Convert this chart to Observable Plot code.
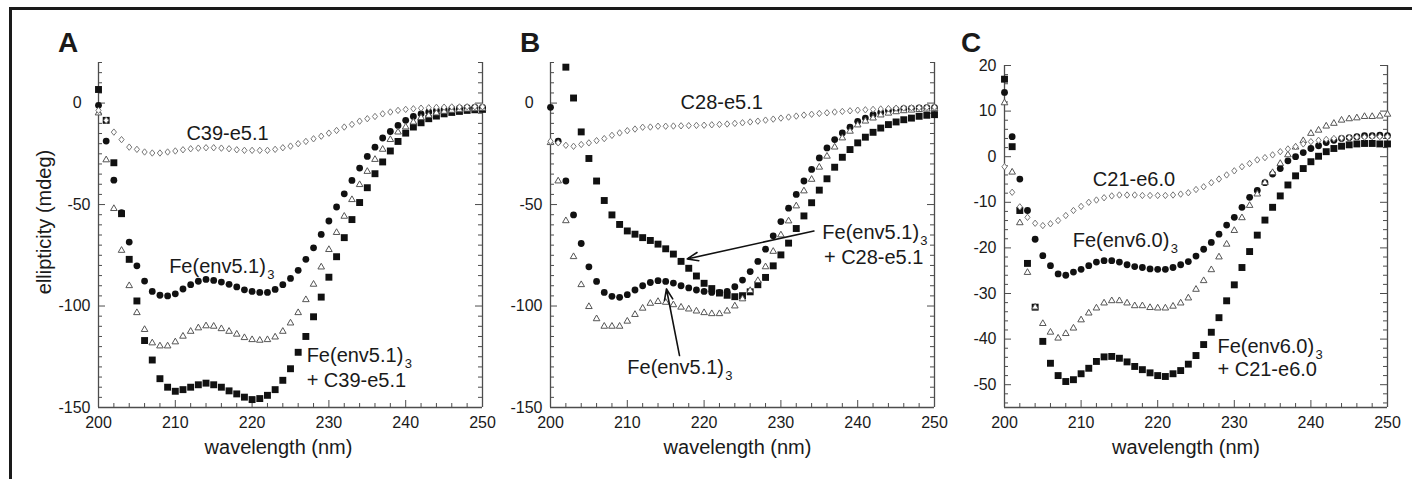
<!DOCTYPE html>
<html><head><meta charset="utf-8">
<script src="https://cdn.jsdelivr.net/npm/d3@7"></script>
<script src="https://cdn.jsdelivr.net/npm/@observablehq/plot@0.6"></script>
<style>
body{margin:0;background:#fff;}
#fig{position:relative;width:1412px;height:479px;background:#fff;overflow:hidden;font-family:"Liberation Sans",Arial,Helvetica,sans-serif;color:#1a1a1a;}
.panel{position:absolute;height:460px;}
.panel svg{overflow:visible;display:block;}
.letter{position:absolute;font-weight:bold;font-size:28px;line-height:28px;}
.bar{position:absolute;background:#1a1a1a;}
</style></head><body>
<div id="fig">
  <div class="bar" style="left:9px;top:7px;width:1403px;height:3px"></div>
  <div class="bar" style="left:9px;top:7px;width:3px;height:472px"></div>
  <div class="letter" style="left:58px;top:29px">A</div>
  <div class="letter" style="left:520px;top:29px">B</div>
  <div class="letter" style="left:961px;top:29px">C</div>
  <div class="panel" id="pA" style="left:12px;top:12px;width:478px"></div>
  <div class="panel" id="pB" style="left:490px;top:12px;width:452px"></div>
  <div class="panel" id="pC" style="left:942px;top:12px;width:462px"></div>
</div>
<script>
// ---------- data ----------
const wavelength = [200,201,202,203,204,205,206,207,208,209,210,211,212,213,214,215,216,217,218,219,220,221,222,223,224,225,226,227,228,229,230,231,232,233,234,235,236,237,238,239,240,241,242,243,244,245,246,247,248,249,250];
const xTickLabels = [200, 210, 220, 230, 240, 250];
const abYTickLabels = [-150, -100, -50, 0];
const cYTickLabels = [-50, -40, -30, -20, -10, 0, 10, 20];

// Panel A
const aSquare = [6.7,-8.5,-29.4,-54.5,-77,-97.5,-117,-126.6,-135.8,-140,-142,-141.2,-140,-138.8,-138,-138.8,-140,-141.8,-143.3,-144.9,-146.1,-145.6,-144,-141.2,-136.6,-130.9,-122.8,-115,-105.3,-95.6,-85.8,-75.7,-66.3,-57.4,-49,-41.7,-34.8,-29,-23.6,-18.9,-14.8,-11.8,-9.7,-7.7,-6.4,-5.3,-4.6,-4.1,-3.6,-3.3,-3.1];
const aCircle = [-1.1,-18.7,-38,-54,-68.5,-80.2,-87.7,-92.8,-94.7,-95,-94,-91.6,-89.5,-87.8,-86.9,-87.4,-88.2,-89.3,-90.6,-92,-92.8,-93.3,-93.3,-91.8,-89.5,-86.4,-82.4,-77,-71.3,-64.7,-58.1,-51.2,-44.7,-38.1,-32,-26.3,-21.7,-17.2,-14,-11,-8.5,-6.6,-5.3,-4.4,-3.6,-3.1,-2.8,-2.5,-2.3,-2.1,-2.1];
const aTriangle = [-4.9,-28,-52,-72.6,-90,-103.3,-111.6,-118.2,-119.7,-119.7,-117.7,-114.9,-112.5,-110.8,-109.8,-110,-111.2,-112.5,-113.9,-115.6,-116.6,-116.9,-116.6,-115.3,-112.5,-108.4,-103.3,-96.9,-89.3,-80.8,-72.2,-63.8,-55.8,-47.6,-40.2,-33.7,-27.8,-22.8,-18,-14.3,-11.8,-9.4,-7.2,-6.1,-4.9,-4.1,-3.6,-3.3,-3,-2.8,-2.6];
const aDiamond = [-3.6,-8.5,-14.3,-18,-21.7,-22.8,-24.1,-24.6,-24.6,-24.1,-23.6,-23,-22.5,-22.2,-22,-22,-22.2,-22.5,-23,-23.3,-23.3,-23.3,-23.3,-22.8,-22,-21.2,-20,-18.9,-17.6,-16.3,-14.8,-13.5,-11.8,-10.5,-8.9,-7.7,-6.6,-5.3,-4.4,-3.6,-3.1,-2.8,-2.5,-2.3,-2.1,-2,-1.9,-1.9,-1.8,-1.8,-1.8];
const aNoteText = ["C39-e5.1", "Fe(env5.1)", "Fe(env5.1)", "+ C39-e5.1"];
const aNoteX = [216.8, 209.2, 227.1, 227.1];
const aNoteY = [-18.4, -83.9, -127.7, -140];
const aNoteAlign = ["middle", "start", "start", "start"];
const aNoteSub = ["", "3", "3", ""];

// Panel B
const bSquare = [null,null,17.7,2.5,-14.2,-27.3,-38.4,-48,-55.1,-59.8,-63,-64.6,-66.3,-67.7,-69.5,-71.8,-74.4,-78,-81.4,-85.2,-88.8,-91.4,-93.6,-94.7,-95.4,-94.9,-93,-89.5,-85.9,-80.2,-74.8,-69,-61.8,-55.6,-49.1,-42.9,-37.3,-31.6,-26.7,-22.9,-19.6,-16.8,-14.4,-12.3,-10.6,-9.3,-8.2,-7.4,-6.5,-6,-5.7];
const bCircle = [-2.1,-18.8,-38.4,-55.1,-69.2,-80.7,-87.9,-93.3,-95.2,-95.7,-94.4,-92.1,-90,-88.4,-87.5,-87.9,-88.7,-90,-91.1,-92.1,-92.8,-93.3,-93.3,-92.8,-90.5,-87.2,-83,-78,-72,-65.4,-58.4,-51.8,-45,-38.4,-32.7,-27,-22.1,-18,-14.7,-11.9,-9,-7.4,-5.7,-4.6,-3.7,-3.2,-2.8,-2.6,-2.4,-2.3,-2.2];
const bTriangle = [-19.5,-38.4,-58,-75.7,-89.5,-100.3,-106.3,-110,-110,-110,-107.5,-104.2,-101.1,-98.7,-97.8,-98.2,-99.4,-100.6,-101.5,-102.5,-103.3,-103.8,-103.8,-102.5,-100,-96.5,-92.4,-87.5,-80.7,-73.1,-65,-58.1,-50.7,-43.3,-37.6,-31.6,-26.2,-21.7,-17.2,-13.9,-10.8,-8.9,-7.4,-5.9,-5,-4.3,-3.8,-3.5,-3.2,-3,-2.8];
const bDiamond = [-18.8,-19.6,-20.8,-21.3,-20.4,-19.6,-18.5,-17.5,-15.9,-14.7,-13.6,-12.8,-11.9,-11.8,-11.4,-11.4,-11.3,-11.2,-11.1,-11,-10.9,-10.7,-10.5,-10.3,-10,-9.7,-9.3,-8.9,-8.4,-7.9,-7.4,-6.9,-6.4,-5.9,-5.5,-5.1,-4.8,-4.4,-4.1,-3.8,-3.5,-3.3,-3.1,-2.9,-2.7,-2.5,-2.4,-2.3,-2.2,-2.1,-2.0];
const bNoteText = ["C28-e5.1", "Fe(env5.1)", "Fe(env5.1)", "+ C28-e5.1"];
const bNoteX = [222.3, 210.0, 235.4, 235.6];
const bNoteY = [-3.1, -133.5, -67, -79.2];
const bNoteAlign = ["middle", "start", "start", "start"];
const bNoteSub = ["", "3", "3", ""];
const bArrowX1 = [234.3, 216.8];
const bArrowY1 = [-63, -124.4];
const bArrowX2 = [217.8, 215.1];
const bArrowY2 = [-76.8, -91.6];

// Panel C
const cSquare = [17,2.2,-11.8,-23.4,-33,-40.5,-45.3,-48,-49.3,-48.9,-47.6,-46.4,-44.9,-43.9,-43.8,-44.2,-45,-46,-46.7,-47.4,-48,-48.2,-47.6,-46.9,-45.5,-43.6,-41.2,-38.5,-35.3,-31.6,-28.1,-24.3,-20.8,-17.2,-13.9,-11.1,-8.6,-6.2,-4.2,-2.6,-1.1,0.1,1.1,1.8,2.3,2.6,2.8,2.9,2.9,2.8,2.8];
const cCircle = [14.1,4.4,-4.9,-11.8,-18.1,-21.7,-23.9,-25.7,-26,-25.3,-24.7,-23.9,-23.1,-22.8,-22.8,-23.1,-23.7,-24.1,-24.3,-24.6,-24.7,-24.7,-24.3,-23.7,-23,-21.8,-20.3,-18.8,-17,-15,-13.3,-11.1,-8.9,-7.4,-5.7,-3.8,-2.6,-0.9,0,0.9,1.8,2.4,3.1,3.6,4,4.2,4.4,4.6,4.6,4.7,4.6];
const cTriangle = [11.8,-3.4,-14.5,-25.4,-33,-36.6,-38.5,-39.8,-38.8,-37.6,-35.8,-34.3,-33.2,-32.1,-31.6,-31.6,-32.1,-32.7,-32.7,-33.1,-33.2,-33.2,-32.8,-32.1,-31,-29.1,-27.2,-24.8,-22,-19.2,-16.2,-13.4,-10.7,-8.2,-5.7,-3.5,-1.5,0.4,2.1,3.5,5.1,5.8,6.7,7.3,8,8.3,8.5,8.8,8.8,8.9,9.3];
const cDiamond = [-2.2,-7.8,-11,-13.3,-14.6,-15.1,-14.7,-14,-12.9,-11.8,-10.9,-10,-9.5,-9,-8.6,-8.4,-8.4,-8.4,-8.5,-8.5,-8.5,-8.5,-8.4,-8.2,-7.9,-7.2,-6.6,-5.7,-4.9,-4,-3.1,-2.2,-1.5,-0.7,-0.2,0.4,1.1,1.7,2.2,2.8,3.3,3.6,3.8,4,4.1,4.2,4.3,4.3,4.4,4.4,4.4];
const cNoteText = ["C21-e6.0", "Fe(env6.0)", "Fe(env6.0)", "+ C21-e6.0"];
const cNoteX = [216.9, 208.9, 227.8, 227.8];
const cNoteY = [-6.4, -19.7, -43, -48.1];
const cNoteAlign = ["middle", "start", "start", "start"];
const cNoteSub = ["", "3", "3", ""];

// ---------- drawing ----------
const FONT = '"Liberation Sans", Arial, Helvetica, sans-serif';
const INK = "#1a1a1a";
const AXIS = "#4d4d4d";

const openTriangle = {draw(ctx, size) {
  const r = Math.sqrt(size / Math.PI);
  const h = r * Math.sqrt(3);
  ctx.moveTo(0, -h * 2 / 3); ctx.lineTo(r, h / 3); ctx.lineTo(-r, h / 3); ctx.closePath();
}};
const openDiamond = {draw(ctx, size) {
  const r = Math.sqrt(size / Math.PI);
  ctx.moveTo(0, -r * 1.1); ctx.lineTo(r * 0.9, 0); ctx.lineTo(0, r * 1.1); ctx.lineTo(-r * 0.9, 0); ctx.closePath();
}};

function rows(vals) {
  return wavelength.map((w, i) => ({w, v: vals[i]})).filter(d => d.v != null);
}
function notes(text, xs, ys, align, sub) {
  return text.map((t, i) => ({t, x: xs[i], y: ys[i], a: align[i], s: sub[i]}));
}

function drawPanel(cfg) {
  const H = 460;
  const pw = cfg.width - cfg.ml - cfg.mr;
  const ph = H - cfg.mt - cfg.mb;
  const [lo, hi] = cfg.yDomain;
  const start = Math.ceil(lo / cfg.minorStep) * cfg.minorStep;
  const yMinor = d3.range(start, hi + 1e-9, cfg.minorStep).filter(v => !cfg.yLabels.includes(v));
  const xMinor = d3.range(200, 250.001, 2).filter(v => !xTickLabels.includes(v));
  const majorLen = 7, minorLen = 4;
  const nts = cfg.notes;
  const marks = [
    Plot.ruleX([200, 250], {stroke: AXIS, strokeWidth: 1.3}),
    Plot.ruleY([lo], {stroke: AXIS, strokeWidth: 1.3}),
    Plot.tickY(cfg.yLabels, {y: d => d, insetRight: pw - majorLen, stroke: AXIS}),
    Plot.tickY(yMinor, {y: d => d, insetRight: pw - minorLen, stroke: AXIS}),
    Plot.tickY(cfg.yLabels, {y: d => d, insetLeft: pw - majorLen, stroke: AXIS}),
    Plot.tickY(yMinor, {y: d => d, insetLeft: pw - minorLen, stroke: AXIS}),
    Plot.tickX(xTickLabels, {x: d => d, insetTop: ph - majorLen, stroke: AXIS}),
    Plot.tickX(xMinor, {x: d => d, insetTop: ph - minorLen, stroke: AXIS}),
    Plot.axisY({ticks: cfg.yLabels, tickSize: 0, tickPadding: 8, label: null, fontSize: 16,
      tickFormat: cfg.zeroPad ? (d => d === 0 ? "0\u2007" : String(d)) : (d => String(d))}),
    Plot.axisX({ticks: xTickLabels, tickSize: 0, tickPadding: 9, label: null, fontSize: 16, tickFormat: d => String(d)}),
    Plot.dot(rows(cfg.sq), {x: "w", y: "v", symbol: "square", r: 3.9, fill: "#111", stroke: "none"}),
    Plot.dot(rows(cfg.ci), {x: "w", y: "v", symbol: "circle", r: 3.4, fill: "#111", stroke: "none"}),
    Plot.dot(rows(cfg.tr), {x: "w", y: "v", symbol: openTriangle, r: 3.3, fill: "white", stroke: "#555", strokeWidth: 1}),
    Plot.dot(rows(cfg.di), {x: "w", y: "v", symbol: openDiamond, r: 2.9, fill: "white", stroke: "#777", strokeWidth: 1}),
    Plot.text(nts.filter(d => d.a === "middle"), {x: "x", y: "y", text: "t", textAnchor: "middle", lineAnchor: "bottom", fontSize: 20, fill: INK}),
    Plot.text(nts.filter(d => d.a === "start"), {x: "x", y: "y", text: "t", textAnchor: "start", lineAnchor: "bottom", fontSize: 20, fill: INK}),
    Plot.text(nts.filter(d => d.s), {x: "x", y: "y", text: "s", textAnchor: "start", lineAnchor: "bottom", fontSize: 13, dx: 98, dy: 6, fill: INK}),
    Plot.text(["wavelength (nm)"], {text: d => d, frameAnchor: "bottom", lineAnchor: "bottom", dy: 46, dx: cfg.xTitleDx, fontSize: 20, fill: INK})
  ];
  if (cfg.arrows) {
    marks.push(Plot.arrow(cfg.arrows, {x1: "x1", y1: "y1", x2: "x2", y2: "y2", stroke: "#111", strokeWidth: 1.6, headLength: 11, headAngle: 42}));
  }
  if (cfg.yTitle) {
    marks.push(Plot.text(["ellipticity (mdeg)"], {text: d => d, frameAnchor: "left", rotate: -90, lineAnchor: "bottom", textAnchor: "middle", dx: -48, dy: -13, fontSize: 20, fill: INK}));
  }
  const svg = Plot.plot({
    width: cfg.width, height: H,
    marginLeft: cfg.ml, marginRight: cfg.mr, marginTop: cfg.mt, marginBottom: cfg.mb,
    x: {domain: [200, 250]},
    y: {domain: cfg.yDomain},
    style: {fontFamily: FONT, fontSize: "16px", color: INK, background: "transparent", overflow: "visible"},
    marks
  });
  document.getElementById(cfg.el).appendChild(svg);
}

drawPanel({el: "pA", width: 478, ml: 86, mr: 8, mt: 50, mb: 65, yDomain: [-150, 20], yLabels: abYTickLabels, minorStep: 5, zeroPad: true,
  sq: aSquare, ci: aCircle, tr: aTriangle, di: aDiamond,
  notes: notes(aNoteText, aNoteX, aNoteY, aNoteAlign, aNoteSub), xTitleDx: -12, yTitle: true});

drawPanel({el: "pB", width: 452, ml: 60, mr: 8, mt: 50, mb: 65, yDomain: [-150, 20], yLabels: abYTickLabels, minorStep: 5, zeroPad: true,
  sq: bSquare, ci: bCircle, tr: bTriangle, di: bDiamond,
  notes: notes(bNoteText, bNoteX, bNoteY, bNoteAlign, bNoteSub), xTitleDx: -5,
  arrows: bArrowX1.map((x1, i) => ({x1, y1: bArrowY1[i], x2: bArrowX2[i], y2: bArrowY2[i]}))});

drawPanel({el: "pC", width: 462, ml: 62, mr: 17, mt: 53, mb: 65, yDomain: [-55, 20], yLabels: cYTickLabels, minorStep: 2, zeroPad: false,
  sq: cSquare, ci: cCircle, tr: cTriangle, di: cDiamond,
  notes: notes(cNoteText, cNoteX, cNoteY, cNoteAlign, cNoteSub), xTitleDx: -10});
</script>
</body></html>
